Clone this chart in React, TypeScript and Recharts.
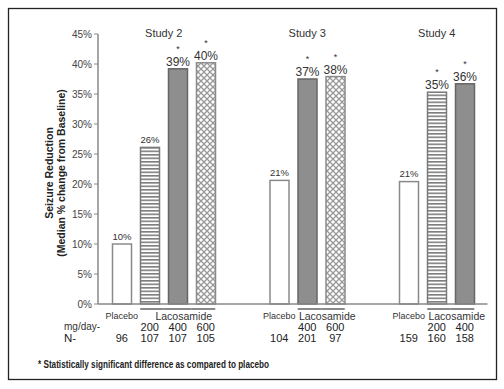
import { BarChart, Bar, XAxis, YAxis } from 'recharts';

// values
const studies = ['Study 2', 'Study 3', 'Study 4'];
const doses = [
  ['Placebo', '200', '400', '600'],
  ['Placebo', '400', '600'],
  ['Placebo', '200', '400'],
];
const reductions = [
  [10, 26.1, 39.2, 40.2],
  [20.6, 37.5, 37.9],
  [20.4, 35.3, 36.7],
];
const printedLabels = [
  ['10%', '26%', '39%', '40%'],
  ['21%', '37%', '38%'],
  ['21%', '35%', '36%'],
];
const significant = [
  [false, false, true, true],
  [false, true, true],
  [false, true, true],
];
const patients = [
  [96, 107, 107, 105],
  [104, 201, 97],
  [159, 160, 158],
];
const yTicks = [0, 5, 10, 15, 20, 25, 30, 35, 40, 45];

// layout
const W = 504;
const H = 389;
const PLOT_LEFT = 98;
const PLOT_TOP = 34;
const LEAD = 6;
const STEP = 8;
const GROUP_GAP = 21;
const TRAIL = 6;
const BAR_W = 19;
const FONT = '"Liberation Sans", Arial, sans-serif';

type Row = {
  key: string;
  kind: 'bar' | 'spacer';
  value: number | null;
  study?: string;
  dose?: string;
  pos?: number;
  count?: number;
  label?: string;
  star?: boolean;
  n?: number;
};

const rows: Row[] = [];
const pushSpacers = (n: number) => {
  for (let i = 0; i < n; i++) rows.push({ key: `s${rows.length}`, kind: 'spacer', value: null });
};
pushSpacers(LEAD);
studies.forEach((study, g) => {
  if (g > 0) pushSpacers(GROUP_GAP - 1);
  doses[g].forEach((dose, i) => {
    if (i > 0) pushSpacers(STEP - 1);
    rows.push({
      key: `${study}-${dose}`,
      kind: 'bar',
      value: reductions[g][i],
      study,
      dose,
      pos: i,
      count: doses[g].length,
      label: printedLabels[g][i],
      star: significant[g][i],
      n: patients[g][i],
    });
  });
});
pushSpacers(TRAIL);

const rowByKey: Record<string, Row> = {};
rows.forEach((r) => (rowByKey[r.key] = r));

const SLOT = 3.5;
const PAD_LEFT = 1;
const PLOT_RIGHT = PLOT_LEFT + PAD_LEFT + SLOT * rows.length;
const PITCH = STEP * SLOT;

const doseFill: Record<string, { fill: string; stroke: string }> = {
  Placebo: { fill: '#ffffff', stroke: '#8a8a8a' },
  '200': { fill: 'url(#stripes)', stroke: '#7a7a7a' },
  '400': { fill: '#8e8e8e', stroke: '#666666' },
  '600': { fill: 'url(#hatch)', stroke: '#8a8a8a' },
};

function BarShape(props: any) {
  const { x, y, width, height, payload } = props;
  if (!payload || payload.kind !== 'bar' || height == null || isNaN(y)) return <g />;
  const cx = x + width / 2;
  const st = doseFill[payload.dose];
  return (
    <g>
      <rect x={cx - BAR_W / 2} y={y} width={BAR_W} height={height} fill={st.fill} stroke={st.stroke} strokeWidth={1.5} />
      {payload.star && (
        <text x={cx} y={y - 17} textAnchor="middle" fontSize={9} fill="#333" fontFamily={FONT}>*</text>
      )}
      <text
        x={cx}
        y={payload.star ? y - 3 : y - 4.5}
        textAnchor="middle"
        fontSize={payload.star ? 12 : 9.5}
        fill="#333"
        fontFamily={FONT}
      >
        {payload.label}
      </text>
    </g>
  );
}

function GroupTick(props: any) {
  const { x, y, payload } = props;
  const row = rowByKey[payload?.value];
  if (!row || row.kind !== 'bar') return <g />;
  const pos = row.pos as number;
  const count = row.count as number;
  const isPlacebo = row.dose === 'Placebo';
  const a = pos === 1 ? BAR_W / 2 : PITCH / 2;
  const b = pos === count - 1 ? BAR_W / 2 : PITCH / 2;
  return (
    <g fontFamily={FONT}>
      {pos === 0 && (
        <text x={x + ((count - 1) * PITCH) / 2} y={PLOT_TOP + 3} textAnchor="middle" fontSize={11} fill="#333">
          {row.study}
        </text>
      )}
      {isPlacebo ? (
        <text x={x} y={y + 15} textAnchor="middle" fontSize={9} fill="#333">Placebo</text>
      ) : (
        <line x1={x - a} x2={x + b} y1={y + 5} y2={y + 5} stroke="#8a8a8a" strokeWidth={2} />
      )}
      {pos === 1 && (
        <text x={x + ((count - 2) * PITCH) / 2 + 6} y={y + 16} textAnchor="middle" fontSize={10.5} fill="#333">
          Lacosamide
        </text>
      )}
      {!isPlacebo && (
        <text x={x} y={y + 27} textAnchor="middle" fontSize={11} fill="#222">{row.dose}</text>
      )}
      <text x={x} y={y + 38} textAnchor="middle" fontSize={11} fill="#222">{row.n}</text>
    </g>
  );
}

export default function App() {
  return (
    <div style={{ position: 'absolute', left: 0, top: 0, background: '#fff' }}>
      <BarChart
        width={W}
        height={H}
        data={rows}
        barCategoryGap={0}
        barGap={0}
        margin={{ top: PLOT_TOP, right: W - PLOT_RIGHT, bottom: 35, left: PLOT_LEFT - 40 }}
      >
        <defs>
          <pattern id="stripes" patternUnits="userSpaceOnUse" width={6} height={3.5}>
            <rect width={6} height={3.5} fill="#fff" />
            <rect y={0} width={6} height={1.6} fill="#7d7d7d" />
          </pattern>
          <pattern id="hatch" patternUnits="userSpaceOnUse" width={6} height={6}>
            <rect width={6} height={6} fill="#fff" />
            <path d="M0,0 L6,6 M6,0 L0,6" stroke="#999" strokeWidth={1.3} />
            <path d="M-1,1 L1,-1 M5,7 L7,5 M-1,5 L1,7 M5,-1 L7,1" stroke="#999" strokeWidth={1.3} />
          </pattern>
        </defs>
        <rect x={8.5} y={8.5} width={488} height={371} fill="none" stroke="#222" strokeWidth={1.3} />
        <XAxis
          dataKey="key"
          type="category"
          interval={0}
          height={50}
          padding={{ left: PAD_LEFT, right: 0 }}
          tickLine={false}
          tickSize={0}
          tickMargin={0}
          tick={GroupTick}
          axisLine={{ stroke: '#888', strokeWidth: 1.5 }}
        />
        <YAxis
          width={40}
          domain={[0, 45]}
          ticks={yTicks}
          tickFormatter={(v: number) => `${v}%`}
          tick={{ fontSize: 10, fill: '#444', fontFamily: FONT }}
          tickSize={4}
          tickMargin={2}
          tickLine={{ stroke: '#888' }}
          axisLine={{ stroke: '#888', strokeWidth: 1.5 }}
        />
        <Bar dataKey="value" shape={BarShape} isAnimationActive={false} />
        <g fontFamily={FONT} fontWeight="bold" fill="#222" fontSize={10.5}>
          <text transform="rotate(-90)" x={-173} y={52.7} textAnchor="middle">Seizure Reduction</text>
          <text transform="rotate(-90)" x={-173} y={64.7} textAnchor="middle">(Median % change from Baseline)</text>
        </g>
        <text x={64} y={329.5} fontSize={10} fill="#333" fontFamily={FONT}>mg/day-</text>
        <text x={64} y={342} fontSize={11.5} fill="#222" fontFamily={FONT}>N-</text>
        <text
          x={38}
          y={368}
          fontSize={10.5}
          fontWeight="bold"
          fill="#222"
          fontFamily={'"Liberation Sans Narrow", "Arial Narrow", ' + FONT}
          textLength={231}
          lengthAdjust="spacingAndGlyphs"
        >
          * Statistically significant difference as compared to placebo
        </text>
      </BarChart>
    </div>
  );
}
